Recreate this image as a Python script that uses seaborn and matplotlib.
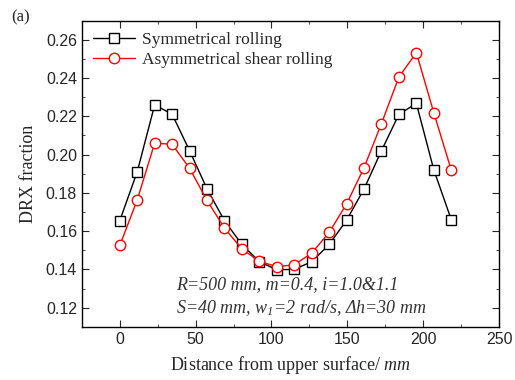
import numpy as np
import pandas as pd
import matplotlib
matplotlib.use("Agg")
import matplotlib.pyplot as plt
from matplotlib.ticker import MultipleLocator
import seaborn as sns

# data
distance = [0, 11.5, 23, 34.5, 46, 57.5, 69, 80.5, 92, 103.5,
            115, 126.5, 138, 149.5, 161, 172.5, 184, 195.5, 207, 218.5]
sym_drx = [0.1655, 0.191, 0.226, 0.221, 0.202, 0.182, 0.1654, 0.153, 0.144, 0.1398,
           0.140, 0.144, 0.153, 0.1657, 0.182, 0.202, 0.221, 0.2267, 0.192, 0.166]
asym_drx = [0.1525, 0.1763, 0.206, 0.2053, 0.1928, 0.176, 0.1616, 0.1506, 0.1442, 0.1414,
            0.1424, 0.1485, 0.1593, 0.1742, 0.1931, 0.2162, 0.2405, 0.2532, 0.2218, 0.1919]
series_names = ["Symmetrical rolling", "Asymmetrical shear rolling"]

df = pd.concat([
    pd.DataFrame({"x": distance, "y": sym_drx, "series": series_names[0]}),
    pd.DataFrame({"x": distance, "y": asym_drx, "series": series_names[1]}),
])

sns.set_theme(style="ticks")
plt.rcParams["font.family"] = ["Liberation Serif", "DejaVu Serif"]
plt.rcParams["mathtext.fontset"] = "custom"
plt.rcParams["mathtext.rm"] = "Liberation Serif:italic"
plt.rcParams["mathtext.it"] = "Liberation Serif:italic"

fig = plt.figure(figsize=(5.15, 3.8), dpi=100)
ax = fig.add_axes([0.159, 0.14, 0.81, 0.806])

sns.lineplot(data=df, x="x", y="y", hue="series", style="series",
             palette=["black", "red"], markers=["s", "o"], dashes=False,
             markersize=7.5, linewidth=1.0, markerfacecolor="white",
             markeredgewidth=1.0, ax=ax, sort=False)
# marker edges follow the line colour, faces stay white
for line, col in zip(ax.lines, ["black", "red"]):
    line.set_markeredgecolor(col)
    line.set_markerfacecolor("white")
ax.lines[0].set_markersize(7)

ax.set_xlim(-25, 250)
ax.set_ylim(0.11, 0.27)
ax.xaxis.set_minor_locator(MultipleLocator(25))
ax.yaxis.set_minor_locator(MultipleLocator(0.01))
ax.set_yticks(np.arange(0.12, 0.261, 0.02))
ax.set_yticklabels([f"{v:.2f}" for v in np.arange(0.12, 0.261, 0.02)],
                   family="Liberation Sans", fontsize=11.5)
ax.set_xticks([0, 50, 100, 150, 200, 250])
ax.set_xticklabels(["0", "50", "100", "150", "200", "250"],
                   family="Liberation Sans", fontsize=11.5)
ax.tick_params(which="major", direction="in", length=5, width=0.8,
               top=True, right=True)
ax.tick_params(which="minor", direction="in", length=2.5, width=0.6,
               top=True, right=True)
for s in ax.spines.values():
    s.set_linewidth(1.0)
    s.set_color("black")

ax.set_xlabel("Distance from upper surface/ $mm$", fontsize=13, labelpad=5)
ax.set_ylabel("DRX fraction", fontsize=13, labelpad=6)

leg = ax.legend(loc="upper left", frameon=False, fontsize=12.5,
                handlelength=2.4, handletextpad=0.4, borderaxespad=0.25,
                labelspacing=0.25)
for h, col in zip(leg.legend_handles, ["black", "red"]):
    h.set_markerfacecolor("white")
    h.set_markeredgecolor(col)

ax.text(0.226, 0.138, "R=500 mm, m=0.4, i=1.0&1.1", transform=ax.transAxes,
        fontsize=13, style="italic", color="#333333", va="center")
ax.text(0.226, 0.062, "S=40 mm, w$_1$=2 rad/s, \u0394h=30 mm", transform=ax.transAxes,
        fontsize=13, style="italic", color="#333333", va="center")

fig.text(0.022, 0.955, "(a)", fontsize=12, va="center")

fig.savefig("out.png", dpi=100)
